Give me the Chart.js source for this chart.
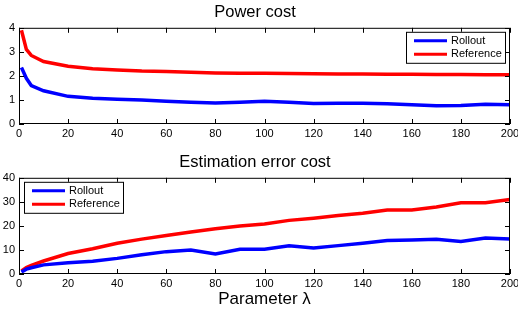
<!DOCTYPE html>
<html>
<head>
<meta charset="utf-8">
<script src="https://cdn.jsdelivr.net/npm/chart.js@4"></script>
<style>
  body { margin: 0; background: #fff; }
  .box { position: absolute; left: 0; width: 518px; }
  #top { top: 0; height: 150px; }
  #bottom { top: 150px; height: 166px; }
</style>
</head>
<body>
<div class="box" id="top"><canvas id="powerChart"></canvas></div>
<div class="box" id="bottom"><canvas id="errorChart"></canvas></div>
<script>
// lambda values (x axis)
const lambdas = [1, 3, 5, 10, 20, 30, 40, 50, 60, 70, 80, 90, 100, 110, 120, 130, 140, 150, 160, 170, 180, 190, 200];

// Power cost
const powerRollout   = [2.35, 1.9, 1.6, 1.38, 1.15, 1.07, 1.03, 1.0, 0.95, 0.9, 0.87, 0.9, 0.95, 0.9, 0.85, 0.86, 0.86, 0.84, 0.8, 0.76, 0.77, 0.82, 0.8];
const powerReference = [3.9, 3.1, 2.85, 2.6, 2.4, 2.3, 2.25, 2.2, 2.18, 2.15, 2.12, 2.11, 2.11, 2.1, 2.09, 2.08, 2.08, 2.07, 2.07, 2.06, 2.06, 2.05, 2.05];

// Estimation error cost
const errorRollout   = [0.8, 2.0, 2.6, 3.8, 4.7, 5.3, 6.5, 8.0, 9.3, 10.0, 8.3, 10.3, 10.3, 11.7, 10.8, 11.8, 12.8, 13.9, 14.1, 14.4, 13.5, 15.0, 14.6];
const errorReference = [1.3, 2.7, 3.6, 5.4, 8.5, 10.5, 12.8, 14.5, 16.0, 17.5, 18.8, 20.0, 20.8, 22.3, 23.2, 24.3, 25.3, 26.6, 26.6, 27.9, 29.6, 29.6, 31.0];

const seriesNames = ['Rollout', 'Reference'];
const seriesColors = ['#0000ff', '#ff0000'];

const FONT = 'Liberation Sans, Arial, Helvetica, sans-serif';

// MATLAB-like frame with inward ticks + legend box inside the plot
const framePlugin = {
  id: 'frame',
  afterDraw(chart, args, opts) {
    const ctx = chart.ctx;
    const a = chart.chartArea;
    const xs = chart.scales.x, ys = chart.scales.y;
    ctx.save();
    ctx.strokeStyle = '#000';
    ctx.lineWidth = 1;
    ctx.strokeRect(a.left + 0.5, a.top + 0.5, a.right - a.left - 1, a.bottom - a.top - 1);
    ctx.beginPath();
    xs.ticks.forEach(t => {
      const px = Math.round(xs.getPixelForValue(t.value)) + 0.5;
      ctx.moveTo(px, a.bottom); ctx.lineTo(px, a.bottom - 5);
      ctx.moveTo(px, a.top); ctx.lineTo(px, a.top + 5);
    });
    ys.ticks.forEach(t => {
      const py = Math.round(ys.getPixelForValue(t.value)) + 0.5;
      ctx.moveTo(a.left, py); ctx.lineTo(a.left + 5, py);
      ctx.moveTo(a.right, py); ctx.lineTo(a.right - 5, py);
    });
    ctx.stroke();

    // legend
    const w = 99, h = 31;
    const lx = opts.side === 'right' ? a.right - 5 - w : a.left + 5;
    const ly = a.top + 4;
    ctx.fillStyle = '#fff';
    ctx.fillRect(lx, ly, w, h);
    ctx.strokeRect(lx + 0.5, ly + 0.5, w, h);
    ctx.font = '11px ' + FONT;
    ctx.textBaseline = 'middle';
    seriesNames.forEach((name, i) => {
      const y = ly + 9 + i * 13.5;
      ctx.strokeStyle = seriesColors[i];
      ctx.lineWidth = 3;
      ctx.beginPath();
      ctx.moveTo(lx + 8, y); ctx.lineTo(lx + 41, y);
      ctx.stroke();
      ctx.fillStyle = '#000';
      ctx.fillText(name, lx + 45, y);
    });
    ctx.restore();
  }
};

function makeChart(id, title, rollout, reference, yMax, yStep, xTitle, legendSide) {
  return new Chart(document.getElementById(id), {
    type: 'line',
    data: {
      labels: lambdas,
      datasets: [
        { label: seriesNames[0], data: lambdas.map((x, i) => ({ x: x, y: rollout[i] })), borderColor: seriesColors[0], borderWidth: 3.5, pointRadius: 0, tension: 0 },
        { label: seriesNames[1], data: lambdas.map((x, i) => ({ x: x, y: reference[i] })), borderColor: seriesColors[1], borderWidth: 3.5, pointRadius: 0, tension: 0 }
      ]
    },
    options: {
      responsive: true,
      maintainAspectRatio: false,
      animation: false,
      layout: { padding: { left: 0, right: 8, top: 0, bottom: 0 } },
      plugins: {
        legend: { display: false },
        tooltip: { enabled: false },
        title: {
          display: true,
          text: title,
          color: '#000',
          font: { family: FONT, size: 16.5, weight: 'normal' },
          padding: { top: 3, bottom: 5 }
        },
        frame: { side: legendSide }
      },
      scales: {
        x: {
          type: 'linear',
          min: 0, max: 200,
          grid: { display: false, drawTicks: false },
          border: { display: false },
          ticks: { stepSize: 20, color: '#000', font: { family: FONT, size: 11 }, padding: 3, maxRotation: 0, autoSkip: false },
          title: xTitle ? { display: true, text: xTitle, color: '#000', font: { family: FONT, size: 17 }, padding: { top: 0, bottom: 6 } } : { display: false },
          afterFit: s => { s.height = xTitle ? 42 : 26; s.paddingLeft = 0; s.paddingRight = 0; }
        },
        y: {
          min: 0, max: yMax,
          grid: { display: false, drawTicks: false },
          border: { display: false },
          ticks: { stepSize: yStep, color: '#000', font: { family: FONT, size: 11 }, padding: 4 },
          afterFit: s => { s.width = 19; s.paddingTop = 0; s.paddingBottom = 0; }
        }
      }
    },
    plugins: [framePlugin]
  });
}

makeChart('powerChart', 'Power cost', powerRollout, powerReference, 4, 1, null, 'right');
makeChart('errorChart', 'Estimation error cost', errorRollout, errorReference, 40, 10, 'Parameter λ', 'left');
</script>
</body>
</html>
